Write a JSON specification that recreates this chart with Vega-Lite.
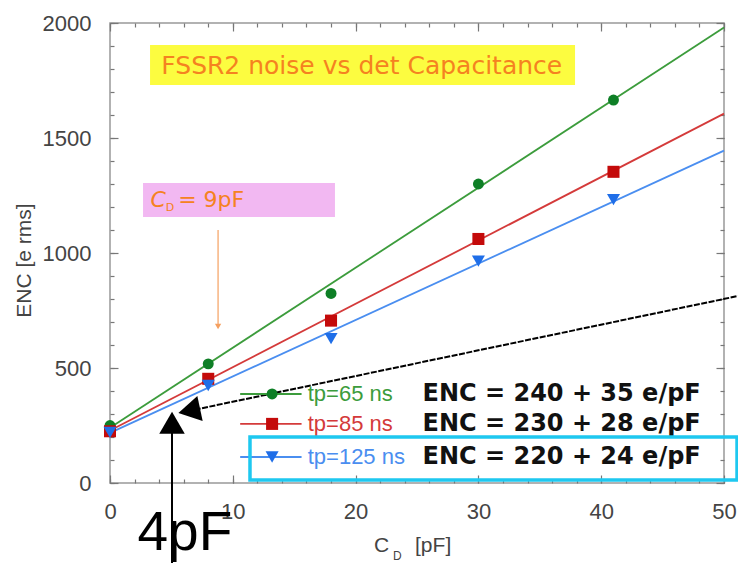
{
  "$schema": "https://vega.github.io/schema/vega-lite/v6.json",
  "width": 614,
  "height": 460,
  "autosize": "none",
  "padding": {"left": 110, "top": 23, "right": 14, "bottom": 80},
  "background": "white",
  "config": {
    "view": {"stroke": "#999999", "strokeWidth": 1.5},
    "font": "Liberation Sans",
    "axis": {"domain": false, "grid": false, "labelFlush": false, "labelFont": "Liberation Sans", "labelFontSize": 22, "labelColor": "#444444", "tickColor": "#777777", "tickWidth": 1.2, "titleFont": "Liberation Sans", "titleFontWeight": "normal", "titleColor": "#444444", "format": "d"}
  },
  "resolve": {"axis": {"x": "independent", "y": "independent"}},
  "datasets": {
    "fits": [
      {"series": "65", "cd": 0, "enc": 240}, {"series": "65", "cd": 50, "enc": 1980},
      {"series": "85", "cd": 0, "enc": 228}, {"series": "85", "cd": 50, "enc": 1606},
      {"series": "125", "cd": 0, "enc": 218}, {"series": "125", "cd": 50, "enc": 1445}
    ],
    "points": [
      {"series": "65", "cd": 0, "enc": 250}, {"series": "65", "cd": 8, "enc": 518}, {"series": "65", "cd": 18, "enc": 824}, {"series": "65", "cd": 30, "enc": 1300}, {"series": "65", "cd": 41, "enc": 1665},
      {"series": "85", "cd": 0, "enc": 225}, {"series": "85", "cd": 8, "enc": 453}, {"series": "85", "cd": 18, "enc": 706}, {"series": "85", "cd": 30, "enc": 1061}, {"series": "85", "cd": 41, "enc": 1353},
      {"series": "125", "cd": 0, "enc": 220}, {"series": "125", "cd": 8, "enc": 424}, {"series": "125", "cd": 18, "enc": 628}, {"series": "125", "cd": 30, "enc": 965}, {"series": "125", "cd": 41, "enc": 1232}
    ],
    "legend": [
      {"series": "65", "label": "tp=65 ns", "eq": "ENC = 240 + 35 e/pF", "row": 387},
      {"series": "85", "label": "tp=85 ns", "eq": "ENC = 230 + 28 e/pF", "row": 257},
      {"series": "125", "label": "tp=125 ns", "eq": "ENC = 220 + 24 e/pF", "row": 113}
    ],
    "one": [{"k": 1}]
  },
  "layer": [
    {
      "data": {"name": "one"},
      "mark": {"type": "rect", "fill": "#fcfc40"},
      "encoding": {
        "x": {"datum": 3.26, "type": "quantitative", "scale": {"domain": [0, 50], "nice": false}, "axis": null},
        "x2": {"datum": 37.87},
        "y": {"datum": 1904, "type": "quantitative", "scale": {"domain": [0, 2000], "nice": false}, "axis": null},
        "y2": {"datum": 1730}
      }
    },
    {
      "data": {"name": "one"},
      "mark": {"type": "rect", "fill": "#f2b8f2"},
      "encoding": {
        "x": {"datum": 2.69, "type": "quantitative", "axis": null},
        "x2": {"datum": 18.32},
        "y": {"datum": 1304, "type": "quantitative", "axis": null},
        "y2": {"datum": 1157}
      }
    },
    {
      "data": {"name": "one"},
      "mark": {"type": "text", "text": "FSSR2 noise vs det Capacitance", "font": "DejaVu Sans", "fontSize": 25, "color": "#f58220", "align": "center", "baseline": "middle"},
      "encoding": {
        "x": {"datum": 20.5, "type": "quantitative", "axis": null},
        "y": {"datum": 1813, "type": "quantitative", "axis": null}
      }
    },
    {
      "data": {"name": "one"},
      "mark": {"type": "text", "text": "C", "font": "DejaVu Sans", "fontStyle": "italic", "fontSize": 22, "color": "#f58220", "align": "left", "baseline": "middle"},
      "encoding": {
        "x": {"datum": 3.3, "type": "quantitative", "axis": null},
        "y": {"datum": 1232, "type": "quantitative", "axis": null}
      }
    },
    {
      "data": {"name": "one"},
      "mark": {"type": "text", "text": "D", "font": "DejaVu Sans", "fontSize": 11, "color": "#f58220", "align": "left", "baseline": "middle"},
      "encoding": {
        "x": {"datum": 4.55, "type": "quantitative", "axis": null},
        "y": {"datum": 1196, "type": "quantitative", "axis": null}
      }
    },
    {
      "data": {"name": "one"},
      "mark": {"type": "text", "text": "= 9pF", "font": "DejaVu Sans", "fontSize": 22, "color": "#f58220", "align": "left", "baseline": "middle"},
      "encoding": {
        "x": {"datum": 5.55, "type": "quantitative", "axis": null},
        "y": {"datum": 1232, "type": "quantitative", "axis": null}
      }
    },
    {
      "data": {"name": "one"},
      "mark": {"type": "rule", "color": "#f5a060", "strokeWidth": 1.2},
      "encoding": {
        "x": {"datum": 8.8, "type": "quantitative", "axis": null},
        "y": {"datum": 1100, "type": "quantitative", "axis": null},
        "y2": {"datum": 680}
      }
    },
    {
      "data": {"name": "one"},
      "mark": {"type": "point", "shape": "triangle-down", "filled": true, "color": "#f5a060", "size": 40, "opacity": 1},
      "encoding": {
        "x": {"datum": 8.8, "type": "quantitative", "axis": null},
        "y": {"datum": 680, "type": "quantitative", "axis": null}
      }
    },
    {
      "data": {"name": "fits"},
      "mark": {"type": "line", "strokeWidth": 1.8},
      "encoding": {
        "x": {"field": "cd", "type": "quantitative", "axis": {"orient": "bottom", "values": [0, 10, 20, 30, 40, 50], "tickSize": -8, "labelPadding": 26, "title": null}},
        "y": {"field": "enc", "type": "quantitative", "axis": {"orient": "left", "values": [0, 500, 1000, 1500, 2000], "tickSize": -8, "labelPadding": 27, "title": "ENC [e rms]", "titleFontSize": 21, "titleAngle": -90, "titleAlign": "center", "titleBaseline": "middle", "titleX": -86, "titleY": 237}},
        "color": {"field": "series", "type": "nominal", "scale": {"domain": ["65", "85", "125"], "range": ["#3c9c3c", "#d43a3a", "#4a8ef0"]}, "legend": null},
        "detail": {"field": "series"}
      }
    },
    {
      "data": {"name": "points"},
      "mark": {"type": "point", "filled": true, "opacity": 1},
      "encoding": {
        "x": {"field": "cd", "type": "quantitative", "axis": {"orient": "bottom", "values": [0, 2, 4, 6, 8, 10, 12, 14, 16, 18, 20, 22, 24, 26, 28, 30, 32, 34, 36, 38, 40, 42, 44, 46, 48, 50], "tickSize": -4, "labels": false, "title": null}},
        "y": {"field": "enc", "type": "quantitative", "axis": {"orient": "left", "values": [0, 100, 200, 300, 400, 500, 600, 700, 800, 900, 1000, 1100, 1200, 1300, 1400, 1500, 1600, 1700, 1800, 1900, 2000], "tickSize": -4, "labels": false, "title": null}},
        "shape": {"field": "series", "type": "nominal", "scale": {"domain": ["65", "85", "125"], "range": ["circle", "square", "triangle-down"]}, "legend": null},
        "fill": {"field": "series", "type": "nominal", "scale": {"domain": ["65", "85", "125"], "range": ["#0e7f26", "#c40a0a", "#1f6ee8"]}, "legend": null},
        "size": {"field": "series", "type": "nominal", "scale": {"domain": ["65", "85", "125"], "range": [120, 170, 90]}, "legend": null}
      }
    },
    {
      "data": {"name": "one"},
      "mark": {"type": "point", "opacity": 0},
      "encoding": {
        "x": {"datum": 0, "type": "quantitative", "axis": {"orient": "top", "values": [0, 10, 20, 30, 40, 50], "tickSize": -8, "labels": false, "title": null}},
        "y": {"datum": 0, "type": "quantitative", "axis": {"orient": "right", "values": [0, 500, 1000, 1500, 2000], "tickSize": -8, "labels": false, "title": null}}
      }
    },
    {
      "data": {"name": "one"},
      "mark": {"type": "point", "opacity": 0},
      "encoding": {
        "x": {"datum": 0, "type": "quantitative", "axis": {"orient": "top", "values": [0, 2, 4, 6, 8, 10, 12, 14, 16, 18, 20, 22, 24, 26, 28, 30, 32, 34, 36, 38, 40, 42, 44, 46, 48, 50], "tickSize": -4, "labels": false, "title": null}},
        "y": {"datum": 0, "type": "quantitative", "axis": {"orient": "right", "values": [0, 100, 200, 300, 400, 500, 600, 700, 800, 900, 1000, 1100, 1200, 1300, 1400, 1500, 1600, 1700, 1800, 1900, 2000], "tickSize": -4, "labels": false, "title": null}}
      }
    },
    {
      "data": {"name": "one"},
      "mark": {"type": "rule", "color": "black", "strokeWidth": 2, "strokeDash": [6, 1.5]},
      "encoding": {
        "x": {"datum": 6.3, "type": "quantitative", "axis": null},
        "y": {"datum": 312, "type": "quantitative", "axis": null},
        "x2": {"datum": 51.14},
        "y2": {"datum": 813}
      }
    },
    {
      "data": {"name": "one"},
      "mark": {"type": "point", "shape": "triangle-left", "filled": true, "color": "black", "size": 650, "angle": -12, "opacity": 1},
      "encoding": {
        "x": {"datum": 6.45, "type": "quantitative", "axis": null},
        "y": {"datum": 314, "type": "quantitative", "axis": null}
      }
    },
    {
      "data": {"name": "one"},
      "mark": {"type": "rule", "color": "black", "strokeWidth": 2},
      "encoding": {
        "x": {"datum": 5.05, "type": "quantitative", "axis": null},
        "y": {"datum": -350, "type": "quantitative", "axis": null},
        "y2": {"datum": 260}
      }
    },
    {
      "data": {"name": "one"},
      "mark": {"type": "point", "shape": "triangle-up", "filled": true, "color": "black", "size": 650, "opacity": 1},
      "encoding": {
        "x": {"datum": 5.05, "type": "quantitative", "axis": null},
        "y": {"datum": 262, "type": "quantitative", "axis": null}
      }
    },
    {
      "data": {"name": "one"},
      "mark": {"type": "text", "text": "4pF", "font": "Liberation Sans", "fontSize": 55, "color": "black", "align": "center", "baseline": "alphabetic"},
      "encoding": {
        "x": {"datum": 6.1, "type": "quantitative", "axis": null},
        "y": {"datum": -291, "type": "quantitative", "axis": null}
      }
    },
    {
      "data": {"name": "legend"},
      "mark": {"type": "rule", "strokeWidth": 1.8},
      "encoding": {
        "x": {"datum": 10.6, "type": "quantitative", "axis": null},
        "x2": {"datum": 15.6},
        "y": {"field": "row", "type": "quantitative", "axis": null},
        "color": {"field": "series", "type": "nominal", "legend": null}
      }
    },
    {
      "data": {"name": "legend"},
      "mark": {"type": "point", "filled": true, "opacity": 1},
      "encoding": {
        "x": {"datum": 13.2, "type": "quantitative", "axis": null},
        "y": {"field": "row", "type": "quantitative", "axis": null},
        "shape": {"field": "series", "type": "nominal", "legend": null},
        "fill": {"field": "series", "type": "nominal", "legend": null},
        "size": {"field": "series", "type": "nominal", "legend": null}
      }
    },
    {
      "data": {"name": "legend"},
      "mark": {"type": "text", "font": "Liberation Sans", "fontSize": 22, "align": "left", "baseline": "middle"},
      "encoding": {
        "x": {"datum": 16.1, "type": "quantitative", "axis": null},
        "y": {"field": "row", "type": "quantitative", "axis": null},
        "text": {"field": "label"},
        "color": {"field": "series", "type": "nominal", "legend": null}
      }
    },
    {
      "data": {"name": "legend"},
      "mark": {"type": "text", "font": "DejaVu Sans", "fontWeight": "bold", "fontSize": 24, "align": "left", "baseline": "middle", "color": "#111111"},
      "encoding": {
        "x": {"datum": 25.45, "type": "quantitative", "axis": null},
        "y": {"field": "row", "type": "quantitative", "axis": null},
        "text": {"field": "eq"}
      }
    },
    {
      "data": {"name": "one"},
      "mark": {"type": "rect", "fill": null, "stroke": "#1ec8f0", "strokeWidth": 3.5},
      "encoding": {
        "x": {"datum": 11.4, "type": "quantitative", "axis": null},
        "x2": {"datum": 51.06},
        "y": {"datum": 200, "type": "quantitative", "axis": null},
        "y2": {"datum": 13}
      }
    },
    {
      "data": {"name": "one"},
      "mark": {"type": "text", "text": "C", "font": "Liberation Sans", "fontSize": 21, "color": "#444444", "align": "left", "baseline": "alphabetic"},
      "encoding": {
        "x": {"datum": 21.5, "type": "quantitative", "axis": null},
        "y": {"datum": -300, "type": "quantitative", "axis": null}
      }
    },
    {
      "data": {"name": "one"},
      "mark": {"type": "text", "text": "D", "font": "Liberation Sans", "fontSize": 12, "color": "#444444", "align": "left", "baseline": "alphabetic"},
      "encoding": {
        "x": {"datum": 23.05, "type": "quantitative", "axis": null},
        "y": {"datum": -333, "type": "quantitative", "axis": null}
      }
    },
    {
      "data": {"name": "one"},
      "mark": {"type": "text", "text": "[pF]", "font": "Liberation Sans", "fontSize": 21, "color": "#444444", "align": "left", "baseline": "alphabetic"},
      "encoding": {
        "x": {"datum": 24.84, "type": "quantitative", "axis": null},
        "y": {"datum": -300, "type": "quantitative", "axis": null}
      }
    }
  ]
}
